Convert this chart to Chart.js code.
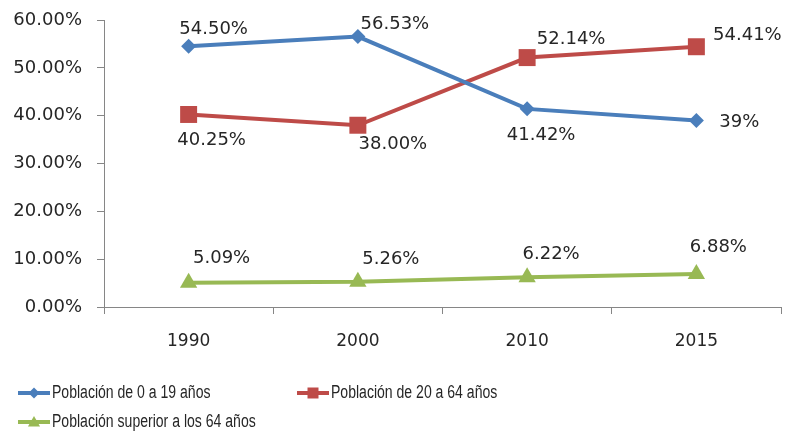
<!DOCTYPE html>
<html>
<head>
<meta charset="utf-8">
<script src="https://cdn.jsdelivr.net/npm/chart.js@4/dist/chart.umd.min.js"></script>
<style>
  html, body { margin: 0; background: #fff; }
  #wrap { width: 786px; height: 435px; }
</style>
</head>
<body>
<div id="wrap"><canvas id="chart"></canvas></div>
<script>
// data
const years = ['1990', '2000', '2010', '2015'];
const jovenes = [54.50, 56.53, 41.42, 39];
const adultos = [40.25, 38.00, 52.14, 54.41];
const mayores = [5.09, 5.26, 6.22, 6.88];
const labelsJovenes = ['54.50%', '56.53%', '41.42%', '39%'];
const labelsAdultos = ['40.25%', '38.00%', '52.14%', '54.41%'];
const labelsMayores = ['5.09%', '5.26%', '6.22%', '6.88%'];
const yTicks = [0, 10, 20, 30, 40, 50, 60];

// where each value label sits relative to its point (dx, dy to text centre)
const labelOffsets = [
  [[25, -17], [37, -12], [14, 26], [43, 2]],
  [[23, 26], [35, 19], [44, -18], [51, -11]],
  [[33, -24], [33, -23], [24, -23], [22, -27]]
];

const BLUE = '#4a7ebb';
const RED = '#be4b48';
const GREEN = '#98b954';
const AXIS = '#868686';
const TEXT = '#262626';
const FONT = '"DejaVu Sans", Verdana, sans-serif';

const valueLabels = {
  id: 'valueLabels',
  afterDatasetsDraw(chart) {
    const ctx = chart.ctx;
    ctx.save();
    ctx.font = '18px ' + FONT;
    ctx.fillStyle = TEXT;
    ctx.textAlign = 'center';
    ctx.textBaseline = 'middle';
    chart.data.datasets.forEach((ds, i) => {
      chart.getDatasetMeta(i).data.forEach((pt, j) => {
        const off = labelOffsets[i][j];
        ctx.fillText(ds.valueLabels[j], pt.x + off[0], pt.y + off[1]);
      });
    });
    ctx.restore();
  }
};

function marker(ctx, style, x, y, r) {
  ctx.beginPath();
  if (style === 'rectRot') {
    ctx.moveTo(x, y - r); ctx.lineTo(x + r, y); ctx.lineTo(x, y + r); ctx.lineTo(x - r, y);
  } else if (style === 'rect') {
    ctx.rect(x - r, y - r, 2 * r, 2 * r);
  } else {
    ctx.moveTo(x, y - r * 1.1); ctx.lineTo(x + r * 1.1, y + r * 0.8); ctx.lineTo(x - r * 1.1, y + r * 0.8);
  }
  ctx.closePath();
  ctx.fill();
}

// legend laid out like the Excel original: two columns, two rows
const excelLegend = {
  id: 'excelLegend',
  afterDraw(chart) {
    const ctx = chart.ctx;
    const spots = [[18, 393], [297, 393], [18, 422]];
    ctx.save();
    ctx.textBaseline = 'middle';
    chart.data.datasets.forEach((ds, i) => {
      const [x, y] = spots[i];
      ctx.strokeStyle = ds.borderColor;
      ctx.fillStyle = ds.borderColor;
      ctx.lineWidth = 4;
      ctx.beginPath();
      ctx.moveTo(x, y); ctx.lineTo(x + 32, y);
      ctx.stroke();
      marker(ctx, ds.pointStyle, x + 16, y, 5.5);
      // the original uses a narrow face, so squeeze the text a little
      ctx.save();
      ctx.translate(x + 34, y);
      ctx.scale(0.78, 1);
      ctx.font = '18px "Liberation Sans", Arial, sans-serif';
      ctx.fillStyle = TEXT;
      ctx.fillText(ds.label, 0, 0);
      ctx.restore();
    });
    ctx.restore();
  }
};

new Chart(document.getElementById('chart'), {
  type: 'line',
  data: {
    labels: years,
    datasets: [
      {
        label: 'Población de 0 a 19 años',
        data: jovenes,
        valueLabels: labelsJovenes,
        borderColor: BLUE, backgroundColor: BLUE,
        pointStyle: 'rectRot', pointRadius: 7.5, borderWidth: 4, pointBorderWidth: 0
      },
      {
        label: 'Población de 20 a 64 años',
        data: adultos,
        valueLabels: labelsAdultos,
        borderColor: RED, backgroundColor: RED,
        pointStyle: 'rect', pointRadius: 12, borderWidth: 4, pointBorderWidth: 0
      },
      {
        label: 'Población superior a los 64 años',
        data: mayores,
        valueLabels: labelsMayores,
        borderColor: GREEN, backgroundColor: GREEN,
        pointStyle: 'triangle', pointRadius: 10, borderWidth: 4, pointBorderWidth: 0
      }
    ]
  },
  options: {
    responsive: true,
    maintainAspectRatio: false,
    animation: false,
    layout: { autoPadding: false, padding: { left: 0, right: 5, top: 20, bottom: 80 } },
    plugins: { legend: { display: false }, tooltip: { enabled: false } },
    scales: {
      x: {
        offset: true,
        grid: { offset: true, drawOnChartArea: false, tickLength: 7, color: AXIS },
        border: { color: AXIS, width: 1 },
        ticks: { color: TEXT, font: { family: FONT, size: 17 }, padding: 17 },
        afterFit(scale) {
          scale.height = 48;
          scale.paddingLeft = 0;
          scale.paddingRight = 0;
        }
      },
      y: {
        min: 0,
        max: 60,
        afterBuildTicks(scale) { scale.ticks = yTicks.map(v => ({ value: v })); },
        grid: { drawOnChartArea: false, tickLength: 7, color: AXIS },
        border: { color: AXIS, width: 1 },
        ticks: {
          color: TEXT,
          font: { family: FONT, size: 18 },
          padding: 15,
          callback: v => v.toFixed(2) + '%'
        },
        afterFit(scale) {
          scale.width = 104;
          scale.paddingTop = 0;
          scale.paddingBottom = 0;
        }
      }
    }
  },
  plugins: [valueLabels, excelLegend]
});
</script>
</body>
</html>
